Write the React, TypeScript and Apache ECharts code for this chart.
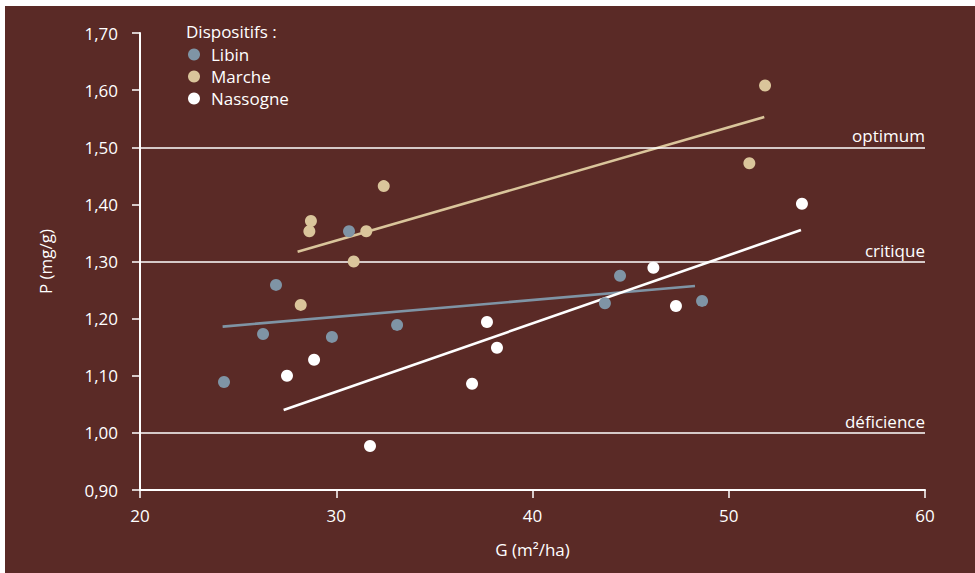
import React, { useEffect, useRef } from "react";
import * as echarts from "echarts";

const seriesNames = ["Libin", "Marche", "Nassogne"];
const colors = ["#7f94a5", "#dac59b", "#ffffff"];

const libinPoints: [number, number][] = [
  [24.28, 1.089], [26.27, 1.173], [26.93, 1.259], [29.78, 1.168], [30.65, 1.353],
  [33.1, 1.189], [43.69, 1.227], [44.46, 1.275], [48.64, 1.231],
];
const marchePoints: [number, number][] = [
  [32.42, 1.432], [28.71, 1.371], [28.63, 1.353], [31.53, 1.353], [30.89, 1.3],
  [28.19, 1.224], [51.85, 1.608], [51.05, 1.472],
];
const nassognePoints: [number, number][] = [
  [28.87, 1.128], [27.49, 1.1], [31.72, 0.977], [36.92, 1.086], [37.68, 1.194],
  [38.19, 1.149], [46.16, 1.289], [47.31, 1.222], [53.73, 1.401],
];

const libinTrend: [number, number][] = [[24.21, 1.186], [48.28, 1.257]];
const marcheTrend: [number, number][] = [[28.03, 1.317], [51.81, 1.553]];
const nassogneTrend: [number, number][] = [[27.32, 1.04], [53.68, 1.355]];

const thresholdValues = [1.0, 1.3, 1.5];
const thresholdLabels = ["déficience", "critique", "optimum"];

const FONT = "Open Sans";
const FS = 17;

export default function App() {
  const ref = useRef<HTMLDivElement>(null);
  useEffect(() => {
    if (!ref.current) return;
    const chart = echarts.init(ref.current, undefined, { renderer: "svg" });
    const points = [libinPoints, marchePoints, nassognePoints];
    const trends = [libinTrend, marcheTrend, nassogneTrend];
    const scatterSeries = seriesNames.map((n, i) => ({
      name: n,
      type: "scatter",
      data: points[i],
      symbolSize: 12,
      itemStyle: { color: colors[i], opacity: 1 },
      z: 5,
    }));
    const trendSeries = seriesNames.map((n, i) => ({
      name: n + " tendance",
      type: "line",
      data: trends[i],
      showSymbol: false,
      symbol: "none",
      lineStyle: { color: colors[i], width: 2.6 },
      z: 4,
    }));
    chart.setOption({
      animation: false,
      backgroundColor: "#ffffff",
      textStyle: { fontFamily: FONT },
      graphic: [
        {
          type: "rect",
          shape: { x: 5, y: 6, width: 975, height: 573 },
          style: { fill: "#5a2a26" },
          z: -10,
          silent: true,
        },
      ],
      title: {
        text: "Dispositifs :",
        left: 186,
        top: 23,
        padding: 0,
        textStyle: { color: "#ffffff", fontSize: FS, fontWeight: "normal", fontFamily: FONT },
      },
      legend: {
        data: seriesNames,
        orient: "vertical",
        left: 188,
        top: 46,
        padding: 0,
        itemWidth: 12,
        itemHeight: 12,
        itemGap: 5,
        icon: "circle",
        textStyle: { color: "#ffffff", fontSize: FS, fontFamily: FONT, padding: [0, 0, 0, 6] },
      },
      grid: { left: 140, right: 50, top: 33, bottom: 83 },
      xAxis: {
        type: "value",
        min: 20,
        max: 60,
        interval: 10,
        name: "G (m²/ha)",
        nameLocation: "middle",
        nameGap: 51,
        nameTextStyle: { color: "#ffffff", fontSize: FS, fontFamily: FONT },
        axisLine: { lineStyle: { color: "#ffffff", width: 2 } },
        axisTick: { show: true, length: 8, lineStyle: { color: "#ffffff", width: 1.5 } },
        axisLabel: { color: "#ffffff", fontSize: FS, margin: 17, fontFamily: FONT },
        splitLine: { show: false },
      },
      yAxis: {
        type: "value",
        min: 0.9,
        max: 1.7,
        interval: 0.1,
        name: "P (mg/g)",
        nameLocation: "middle",
        nameGap: 86,
        nameTextStyle: { color: "#ffffff", fontSize: FS, fontFamily: FONT },
        axisLine: { show: true, lineStyle: { color: "#ffffff", width: 2 } },
        axisTick: { show: true, length: 8, lineStyle: { color: "#ffffff", width: 1.5 } },
        axisLabel: {
          color: "#ffffff",
          fontSize: FS,
          margin: 22,
          fontFamily: FONT,
          formatter: (v: number) => v.toFixed(2).replace(".", ","),
        },
        splitLine: { show: false },
      },
      series: [
        {
          name: "seuils",
          type: "line",
          data: [],
          markLine: {
            silent: true,
            symbol: "none",
            lineStyle: { color: "#ffffff", width: 1.5, type: "solid" },
            label: {
              show: true,
              position: "insideEndTop",
              color: "#ffffff",
              fontSize: FS,
              fontFamily: FONT,
              distance: [0, 3],
            },
            data: thresholdValues.map((v, i) => ({
              yAxis: v,
              label: { formatter: thresholdLabels[i] },
            })),
          },
          z: 2,
        },
        ...trendSeries,
        ...scatterSeries,
      ],
    });
    return () => chart.dispose();
  }, []);
  return (
    <div
      ref={ref}
      style={{ position: "fixed", left: 0, top: 0, width: 975, height: 573 }}
    />
  );
}
